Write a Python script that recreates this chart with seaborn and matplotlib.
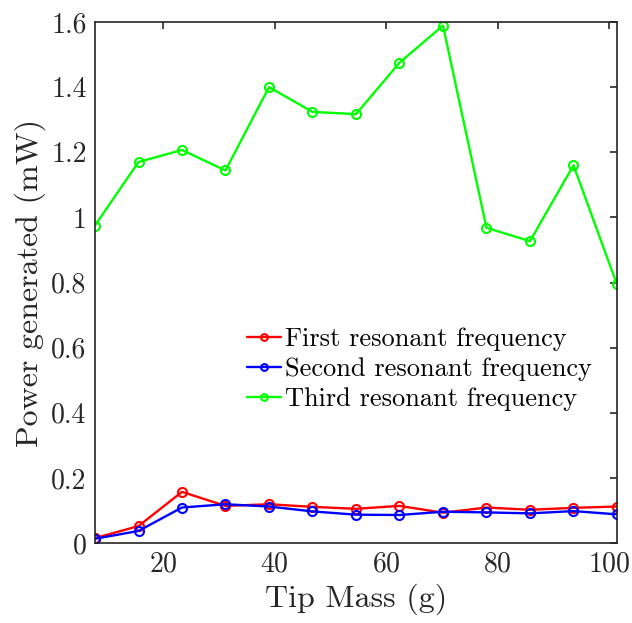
import numpy as np
import pandas as pd
import matplotlib
matplotlib.use("Agg")
import matplotlib.pyplot as plt
import seaborn as sns
from matplotlib.ticker import FuncFormatter

tip_mass = [7.8, 15.6, 23.4, 31.2, 39.0, 46.8, 54.6, 62.4, 70.2, 78.0, 85.8, 93.6, 101.4]
first_freq = [0.015, 0.052, 0.157, 0.114, 0.119, 0.111, 0.105, 0.114, 0.093, 0.109, 0.102, 0.108, 0.112]
second_freq = [0.013, 0.037, 0.109, 0.119, 0.112, 0.097, 0.087, 0.086, 0.096, 0.094, 0.091, 0.098, 0.088]
third_freq = [0.975, 1.170, 1.207, 1.144, 1.400, 1.324, 1.317, 1.475, 1.589, 0.968, 0.927, 1.160, 0.794]

series_names = ["First resonant frequency", "Second resonant frequency", "Third resonant frequency"]
series_colors = ["#ff0000", "#0000ff", "#00ff00"]

sns.set_style("white")
plt.rcParams['font.family'] = ['cmr10', 'DejaVu Serif']
plt.rcParams['axes.formatter.use_mathtext'] = True
plt.rcParams['mathtext.fontset'] = 'cm'

fig = plt.figure(figsize=(6.32, 6.23), dpi=100)
ax = fig.add_axes([95/632, 1 - 543/623, 522/632, 521/623])

for name, vals, col in zip(series_names, [first_freq, second_freq, third_freq], series_colors):
    df = pd.DataFrame({"x": tip_mass, "y": vals})
    sns.lineplot(data=df, x="x", y="y", ax=ax, color=col, linewidth=1.7,
                 marker="o", markersize=6.5, markerfacecolor="none",
                 markeredgecolor=col, markeredgewidth=1.5, label=name)

ax.set_xlim(tip_mass[0], tip_mass[-1])
ax.set_ylim(0, 1.6)
ax.set_xticks([20, 40, 60, 80, 100])
ax.set_yticks([0, 0.2, 0.4, 0.6, 0.8, 1.0, 1.2, 1.4, 1.6])
ax.yaxis.set_major_formatter(FuncFormatter(lambda v, p: "%g" % round(v, 2)))
ax.tick_params(direction="in", top=True, right=True, length=5, width=1.2,
               color="#262626", labelsize=20, labelcolor="#262626", pad=6)
for s in ax.spines.values():
    s.set_color("#262626")
    s.set_linewidth(1.2)

ax.set_xlabel("Tip Mass (g)", fontsize=23, color="#262626", labelpad=4)
ax.set_ylabel("Power generated (mW)", fontsize=23, color="#262626", labelpad=4)

leg = ax.legend(loc="upper left", bbox_to_anchor=(0.245, 0.459), frameon=False,
                fontsize=19, handlelength=1.3, handletextpad=0.15, labelspacing=0.24,
                markerscale=0.75)
for t in leg.get_texts():
    t.set_color("#000000")

fig.savefig("out.png", dpi=100)
